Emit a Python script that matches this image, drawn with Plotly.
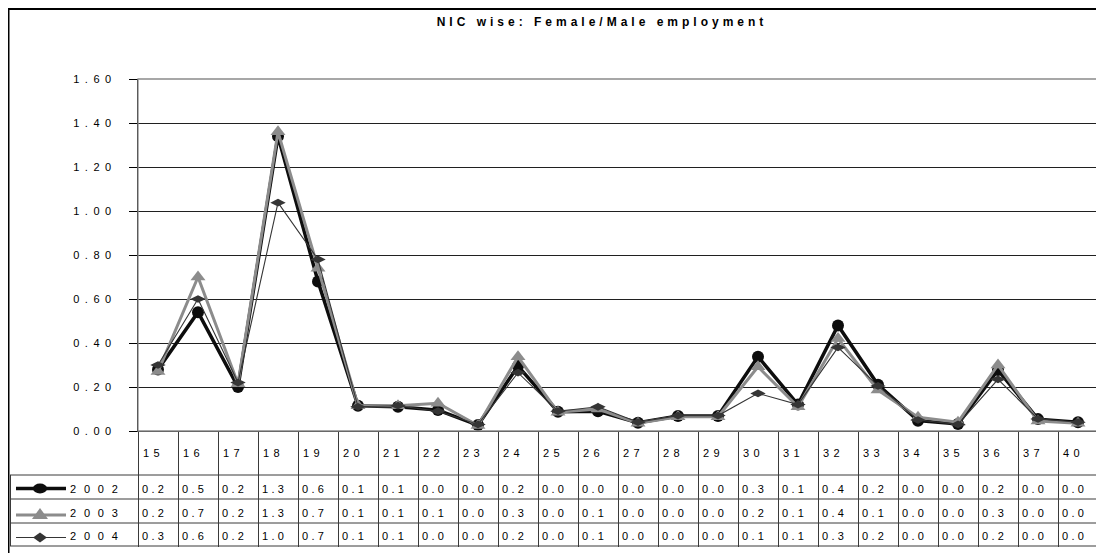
import numpy as np
import plotly.graph_objects as go

# ---------------- data ----------------
categories = ['15', '16', '17', '18', '19', '20', '21', '22', '23', '24', '25', '26',
              '27', '28', '29', '30', '31', '32', '33', '34', '35', '36', '37', '40']
years = ['2002', '2003', '2004']
v2002 = [0.28, 0.54, 0.20, 1.34, 0.68, 0.115, 0.11, 0.095, 0.027, 0.295, 0.088, 0.09,
         0.038, 0.068, 0.068, 0.338, 0.12, 0.48, 0.21, 0.047, 0.032, 0.277, 0.054, 0.04]
v2003 = [0.27, 0.70, 0.215, 1.36, 0.74, 0.115, 0.115, 0.126, 0.025, 0.337, 0.085, 0.10,
         0.035, 0.065, 0.065, 0.292, 0.11, 0.42, 0.186, 0.062, 0.04, 0.30, 0.045, 0.035]
v2004 = [0.30, 0.60, 0.22, 1.038, 0.78, 0.11, 0.115, 0.09, 0.03, 0.265, 0.09, 0.11,
         0.04, 0.07, 0.07, 0.171, 0.12, 0.38, 0.205, 0.05, 0.03, 0.235, 0.055, 0.04]
y_ticks = [0.0, 0.2, 0.4, 0.6, 0.8, 1.0, 1.2, 1.4, 1.6]
title_text = 'NIC wise: Female/Male employment'

series = {'2002': v2002, '2003': v2003, '2004': v2004}

# ---------------- layout helpers ----------------
OFF = 8                      # default page body margin
W, H = 1104 - OFF, 553 - OFF
PLOT_L, PLOT_R, PLOT_T, PLOT_B = 138, 1098, 79, 431   # page pixel coords
L = PLOT_L - OFF
R = W - (PLOT_R - OFF)
T = PLOT_T - OFF
B = H - (PLOT_B - OFF)
PW, PH = PLOT_R - PLOT_L, PLOT_B - PLOT_T


def px(x):
    return (x - PLOT_L) / PW


def py(y):
    return (PLOT_B - y) / PH


FONT = 'Liberation Sans, Arial, sans-serif'


def spaced(s, ls):
    return f'<span style="letter-spacing:{ls}px">{s}</span>'


styles = {
    '2002': dict(color='#0d0d0d', width=3.5, symbol='circle', size=12),
    '2003': dict(color='#8c8c8c', width=3.0, symbol='triangle-up', size=13),
    '2004': dict(color='#353535', width=1.1, symbol='diamond-wide', size=11),
}

fig = go.Figure()
for yr in years:
    st = styles[yr]
    fig.add_trace(go.Scatter(
        x=categories, y=series[yr], name=yr, mode='lines+markers',
        line=dict(color=st['color'], width=st['width']),
        marker=dict(symbol=st['symbol'], size=st['size'], color=st['color'],
                    line=dict(width=0)),
        showlegend=False, cliponaxis=False))

shapes = []
annotations = []

# plot area border (gray top/right)
shapes.append(dict(type='rect', xref='paper', yref='paper', x0=0, x1=1, y0=0, y1=1,
                   line=dict(color='#8a8a8a', width=1.3), layer='above'))
# outer chart frame
shapes.append(dict(type='rect', xref='paper', yref='paper', x0=px(OFF + 0.5), x1=px(1120),
                   y0=py(9), y1=py(580), line=dict(color='#000000', width=2)))

# table horizontal lines
row_lines = [475, 499, 523, 546]
for yl in row_lines:
    shapes.append(dict(type='line', xref='paper', yref='paper', x0=px(10), x1=1,
                       y0=py(yl), y1=py(yl), line=dict(color='#3a3a3a', width=1)))
# legend column left border
shapes.append(dict(type='line', xref='paper', yref='paper', x0=px(10.5), x1=px(10.5),
                   y0=py(475), y1=py(546), line=dict(color='#3a3a3a', width=1)))
# right border through table
shapes.append(dict(type='line', xref='paper', yref='paper', x0=1, x1=1,
                   y0=0, y1=py(546), line=dict(color='#8a8a8a', width=1.3)))

# header labels (categories)
for i, c in enumerate(categories):
    annotations.append(dict(x=i - 0.5, xref='x', y=py(453), yref='paper',
                            text=spaced(c, 4.5), showarrow=False, xanchor='left',
                            yanchor='middle', xshift=3,
                            font=dict(family=FONT, size=11, color='#000')))

row_text_y = {'2002': 489, '2003': 512.5, '2004': 535.5}
key_line_y = {'2002': 488.5, '2003': 515, '2004': 537.5}
for yr in years:
    vals = series[yr]
    for i, v in enumerate(vals):
        txt = '%.1f' % (np.floor(v * 10 + 1e-6) / 10)
        annotations.append(dict(x=i - 0.5, xref='x', y=py(row_text_y[yr]), yref='paper',
                                text=spaced(txt, 3.3), showarrow=False, xanchor='left',
                                yanchor='middle', xshift=2,
                                font=dict(family=FONT, size=11, color='#000')))
    # legend label
    annotations.append(dict(x=px(68), xref='paper', y=py(row_text_y[yr]), yref='paper',
                            text=spaced(yr, 7.8), showarrow=False, xanchor='left',
                            yanchor='middle',
                            font=dict(family=FONT, size=11, color='#000')))
    st = styles[yr]
    ky = key_line_y[yr]
    shapes.append(dict(type='line', xref='paper', yref='paper', x0=px(16), x1=px(66),
                       y0=py(ky), y1=py(ky),
                       line=dict(color=st['color'], width=st['width'])))
    cx = 40
    if yr == '2002':
        shapes.append(dict(type='circle', xref='paper', yref='paper',
                           x0=px(cx - 7), x1=px(cx + 7), y0=py(ky - 5), y1=py(ky + 5),
                           fillcolor=st['color'], line=dict(width=0)))
    elif yr == '2003':
        path = 'M %f %f L %f %f L %f %f Z' % (px(cx - 8), py(ky + 4), px(cx + 8), py(ky + 4),
                                              px(cx), py(ky - 7))
        shapes.append(dict(type='path', xref='paper', yref='paper', path=path,
                           fillcolor=st['color'], line=dict(width=0)))
    else:
        path = 'M %f %f L %f %f L %f %f L %f %f Z' % (px(cx - 7), py(ky), px(cx), py(ky - 5),
                                                      px(cx + 7), py(ky), px(cx), py(ky + 5))
        shapes.append(dict(type='path', xref='paper', yref='paper', path=path,
                           fillcolor=st['color'], line=dict(width=0)))

fig.update_layout(
    width=W, height=H,
    margin=dict(l=L, r=R, t=T, b=B, pad=0),
    paper_bgcolor='white', plot_bgcolor='white',
    title=dict(text='<b>' + spaced(title_text, 4) + '</b>', x=(602 - OFF) / W,
               xref='container', xanchor='center', y=1 - (22 - OFF) / H,
               yref='container', yanchor='middle',
               font=dict(family=FONT, size=12, color='#000')),
    xaxis=dict(type='category', range=[-0.5, len(categories) - 0.5],
               showgrid=False, zeroline=False, showticklabels=False,
               ticks='outside', tickson='boundaries', ticklen=546 - PLOT_B,
               tickcolor='#3a3a3a', tickwidth=1,
               showline=True, linecolor='#000', linewidth=1.3),
    yaxis=dict(range=[0, 1.6], tickvals=y_ticks,
               ticktext=[spaced('%.2f' % t, 5.5) for t in y_ticks],
               showgrid=True, gridcolor='#202020', gridwidth=1, zeroline=False,
               ticks='outside', ticklen=8, tickcolor='#000', tickwidth=1,
               showline=True, linecolor='#000', linewidth=1.3,
               ticklabelstandoff=10,
               tickfont=dict(family=FONT, size=11, color='#000')),
    shapes=shapes, annotations=annotations,
)

fig.write_html('out.html')
